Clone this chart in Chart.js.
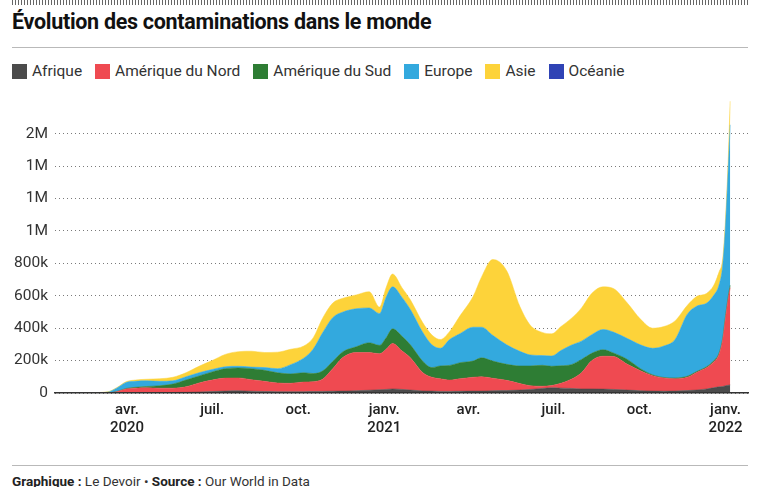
<!DOCTYPE html>
<html lang="fr">
<head>
<meta charset="utf-8">
<script src="https://cdn.jsdelivr.net/npm/chart.js@4"></script>
<style>
  html, body { margin: 0; padding: 0; background: #fff; }
  body { width: 760px; height: 487px; position: relative; overflow: hidden; font-family: Roboto, "Noto Sans", sans-serif; color: #222; }
  .hatch { position: absolute; left: 12px; top: 0; width: 736px; height: 5px;
           background: repeating-linear-gradient(90deg, #666 0 1px, transparent 1px 3px); }
  h1 { position: absolute; left: 12px; top: 9px; margin: 0; font-size: 21.5px; font-weight: 700; color: #111; letter-spacing: -0.3px; }
  .rule { position: absolute; left: 12px; width: 736px; height: 1px; background: #b9b9b9; }
  #legend { position: absolute; left: 12px; top: 62px; display: flex; font-size: 15.5px; color: #333; }
  #legend span.item { display: flex; align-items: center; margin-right: 13px; }
  #legend i { display: inline-block; width: 15px; height: 15px; margin-right: 5px; }
  #wrap { position: absolute; left: 0; top: 85px; width: 760px; height: 360px; }
  .foot { position: absolute; left: 12px; top: 473px; font-size: 13.5px; color: #333; }
  .foot b { font-weight: 700; color: #222; }
</style>
</head>
<body>
<div class="hatch"></div>
<h1>Évolution des contaminations dans le monde</h1>
<div class="rule" style="top:47px"></div>
<div id="legend"></div>
<div id="wrap"><canvas id="chart"></canvas></div>
<div class="rule" style="top:465px"></div>
<div class="foot"><b>Graphique :</b> Le Devoir • <b>Source :</b> Our World in Data</div>

<script>
// jours depuis le 1er janvier 2020
const days = [14, 50, 70, 80, 90, 100, 112, 126, 140, 154, 168, 182, 196, 210, 224, 238, 252, 266, 280, 290,
  300, 311, 322, 336, 350, 361, 368, 375, 385, 394, 407, 417, 426, 436, 447, 461, 470, 482, 497, 511,
  522, 535, 545, 555, 566, 577, 588, 600, 611, 626, 640, 653, 665, 677, 690, 700, 711, 718, 724, 728,
  731, 734, 736];

// nouveaux cas quotidiens (milliers, moyenne mobile)
const afrique = [0, 0, 0, 0.3, 0.7, 1, 2, 2, 3, 4, 6, 9, 12, 14, 11, 9, 8, 8, 8, 9,
  10, 11, 12, 14, 17, 20, 22, 25, 22, 18, 13, 12, 10, 10, 11, 12, 12, 14, 15, 18,
  22, 28, 32, 30, 28, 25, 25, 24, 22, 18, 14, 12, 11, 12, 15, 18, 25, 32, 38, 40,
  45, 48, 50];
const ameriqueNord = [0, 0, 0.5, 7.7, 24, 29, 30, 28, 27, 34, 56, 71, 80, 79, 71, 63, 54, 52, 60, 61,
  75, 139, 208, 236, 233, 222, 248, 281, 238, 199, 114, 85, 78, 70, 77, 85, 88, 77, 63, 40,
  23, 14, 14, 30, 57, 100, 175, 203, 203, 159, 123, 95, 81, 76, 82, 109, 132, 158, 200, 290,
  420, 540, 600];
const ameriqueSud = [0, 0, 0.2, 1, 3, 5, 8, 15, 25, 42, 43, 50, 58, 62, 68, 68, 63, 58, 57, 50,
  50, 45, 35, 35, 60, 52, 70, 90, 90, 80, 70, 60, 79, 90, 99, 100, 117, 106, 99, 109,
  122, 129, 119, 108, 90, 82, 45, 40, 22, 30, 13, 5, 4, 5, 6, 5, 6, 7, 8, 10,
  12, 14, 15];
const europe = [0, 0, 4.3, 21, 37, 37, 35, 27, 20, 20, 20, 15, 12, 10, 10, 17, 25, 57, 90, 150,
  235, 270, 245, 235, 215, 196, 250, 259, 240, 218, 179, 140, 109, 160, 179, 209, 189, 159, 120, 90,
  68, 60, 63, 94, 120, 113, 115, 125, 129, 129, 147, 164, 194, 237, 382, 403, 392, 403, 420, 450,
  560, 800, 990];
const asie = [0, 2, 2, 3, 5, 8, 10, 16, 22, 25, 40, 55, 76, 90, 98, 93, 102, 95, 75, 70,
  90, 90, 85, 85, 100, 40, 60, 79, 60, 60, 60, 61, 54, 50, 110, 189, 309, 468, 457, 278,
  185, 143, 137, 148, 165, 205, 255, 263, 269, 219, 159, 124, 120, 115, 55, 60, 60, 60, 80, 40,
  40, 60, 160];
const oceanie = [0, 0, 0, 0, 0, 0, 0, 0, 0, 0, 0, 0, 0, 0, 0, 0, 0, 0, 0, 0,
  0, 0, 0, 0, 0, 0, 0, 0, 0, 0, 0, 0, 0, 0, 0, 0, 0, 0, 0, 0,
  0, 0, 0, 0, 0, 0, 0, 0, 0, 0, 0, 0, 0, 0, 0, 0, 0, 1, 1, 2,
  2, 3, 4];

const seriesNames  = ['Afrique', 'Amérique du Nord', 'Amérique du Sud', 'Europe', 'Asie', 'Océanie'];
const seriesColors = ['#4b4b4b', '#ef4a51', '#2e7d34', '#33a9de', '#fdd33a', '#2f43b5'];

const tickDays   = [91, 182, 274, 366, 456, 547, 639, 731];
const tickLabels = [['avr.', '2020'], ['juil.'], ['oct.'], ['janv.', '2021'], ['avr.'], ['juil.'], ['oct.'], ['janv.', '2022']];
const yTicks = [0, 200000, 400000, 600000, 800000, 1000000, 1200000, 1400000, 1600000];

const allSeries = [afrique, ameriqueNord, ameriqueSud, europe, asie, oceanie];

// legende HTML
const legend = document.getElementById('legend');
seriesNames.forEach((name, i) => {
    const s = document.createElement('span');
    s.className = 'item';
    s.innerHTML = `<i style="background:${seriesColors[i]}"></i>${name}`;
    legend.appendChild(s);
});

const datasets = allSeries.map((vals, i) => ({
    label: seriesNames[i],
    data: vals.map((v, j) => ({ x: days[j], y: v * 1000 })),
    backgroundColor: seriesColors[i],
    borderColor: seriesColors[i],
    borderWidth: i === 5 ? 0 : 0.5,
    pointRadius: 0,
    cubicInterpolationMode: 'monotone',
    fill: i === 0 ? 'origin' : '-1'
}));

function fmtY(v) {
    if (v === 0) return '0';
    if (v >= 1000000) return Math.round(v / 1000000) + 'M';
    return (v / 1000) + 'k';
}

new Chart(document.getElementById('chart'), {
    type: 'line',
    data: { datasets },
    options: {
        responsive: true, maintainAspectRatio: false,
        animation: false,
        layout: { padding: { top: 6, right: 12, left: 0, bottom: 0 } },
        plugins: { legend: { display: false }, tooltip: { enabled: false } },
        scales: {
            x: {
                type: 'linear', min: 14, max: 755,
                afterBuildTicks: (s) => { s.ticks = tickDays.map(d => ({ value: d })); },
                afterFit: (s) => { s.height = 52; },
                grid: { display: false, drawTicks: false },
                border: { display: true, color: '#333', width: 1.5, z: 1 },
                ticks: {
                    padding: 8, maxRotation: 0, autoSkip: false,
                    color: '#222',
                    font: { family: 'Roboto', size: 15, weight: '500', lineHeight: 1.2 },
                    callback: (v) => { const k = tickDays.indexOf(v); return k >= 0 ? tickLabels[k] : ''; }
                }
            },
            y: {
                stacked: true, min: 0, max: 1800000,
                afterBuildTicks: (s) => { s.ticks = yTicks.map(v => ({ value: v })); },
                afterFit: (s) => { s.width = 55; },
                grid: { color: '#7a7a7a', lineWidth: 1, drawTicks: false },
                border: { display: false, dash: [1, 3] },
                ticks: {
                    padding: 7, color: '#333',
                    font: { family: 'Roboto', size: 15.5 },
                    callback: (v) => fmtY(v)
                }
            }
        }
    }
});
</script>
</body>
</html>
